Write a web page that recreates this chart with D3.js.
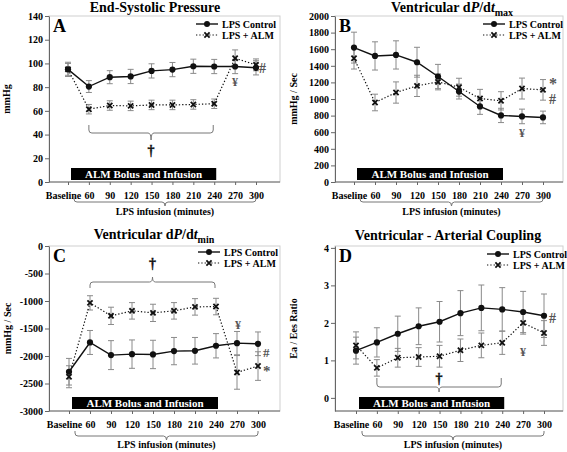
<!DOCTYPE html>
<html><head><meta charset="utf-8">
<script src="https://cdn.jsdelivr.net/npm/d3@7"></script>
<style>
body{margin:0;background:#fff}
text{font-family:"Liberation Serif","Times New Roman",serif;font-weight:bold;fill:#000}
</style>
</head><body>
<svg id="chart" width="567" height="452"></svg>
<script>
// ---------- data ----------
const categories = ["Baseline","60","90","120","150","180","210","240","270","300"];

const espTicks = [0,20,40,60,80,100,120,140];
const espControl    = [95, 80.5, 88.4, 89, 93.7, 94.8, 97.6, 97.4, 97.4, 96.3];
const espControlErr = [6, 5, 5.5, 6, 6, 6, 6, 6, 6, 6];
const espALM        = [95, 61.4, 64.5, 64.2, 65, 65, 65.4, 66, 104.4, 98.8];
const espALMErr     = [5, 4, 4, 4, 4, 4, 4, 4, 7, 5];

const maxTicks = [0,200,400,600,800,1000,1200,1400,1600,1800,2000];
const maxControl    = [1619, 1519, 1531, 1443, 1271, 1090, 910, 802, 790, 778];
const maxControlErr = [186, 170, 170, 180, 146, 90, 95, 86, 88, 76];
const maxALM        = [1491, 958, 1078, 1158, 1206, 1142, 1006, 978, 1126, 1110];
const maxALMErr     = [130, 100, 128, 128, 96, 108, 110, 110, 126, 124];

const minTicks = [0,-500,-1000,-1500,-2000,-2500,-3000];
const minControl    = [-2286, -1754, -1984, -1966, -1972, -1911, -1905, -1814, -1766, -1778];
const minControlErr = [242, 218, 263, 258, 258, 248, 242, 221, 212, 215];
const minALM        = [-2377, -1034, -1270, -1179, -1216, -1179, -1107, -1101, -2298, -2183];
const minALMErr     = [200, 130, 157, 150, 157, 150, 150, 150, 306, 260];

const vacTicks = [0,1,2,3,4];
const vacControl    = [1.26, 1.48, 1.71, 1.91, 2.03, 2.26, 2.40, 2.36, 2.29, 2.19];
const vacControlErr = [0.36, 0.39, 0.47, 0.49, 0.54, 0.60, 0.61, 0.58, 0.55, 0.58];
const vacALM        = [1.40, 0.80, 1.07, 1.09, 1.11, 1.27, 1.40, 1.47, 2.00, 1.73];
const vacALMErr     = [0.36, 0.22, 0.25, 0.25, 0.29, 0.30, 0.33, 0.31, 0.30, 0.33];

const seriesNames = ["LPS Control", "LPS + ALM"];
const barLabel = "ALM Bolus and Infusion";
const xTitle = "LPS infusion (minutes)";

// ---------- layout ----------
const panels = [
  {letter:"A", title:[["End-Systolic Pressure"]], tx:155, ty:12,
   l:49, r:280, t:16, b:182, xr:[68,256], dom:[0,140], ticks:espTicks,
   ctrl:espControl, ctrlErr:espControlErr, alm:espALM, almErr:espALMErr,
   ylab:"mmHg", ylx:6, legX:196, legY:24, xtY:215, braceY:[196,202,206],
   inner:{from:"60", to:"240", yEnd:125, yMid:133, yTip:140, dy:155},
   notes:[["¥",235,86,"m",12],["#",259,73,"s",14]]},
  {letter:"B", title:[["Ventricular d"],["P","i"],["/d"],["t","i"],["max","sub"]], tx:452, ty:12,
   l:335, r:563, t:16, b:182, xr:[354,543], dom:[0,2000], ticks:maxTicks,
   ctrl:maxControl, ctrlErr:maxControlErr, alm:maxALM, almErr:maxALMErr,
   ylab:"mmHg / Sec", ylx:293, legX:483, legY:24, xtY:215, braceY:[196,202,206],
   inner:null,
   notes:[["¥",522,137,"m",12],["*",549,89,"s",16],["#",549,104,"s",14]]},
  {letter:"C", title:[["Ventricular d"],["P","i"],["/d"],["t","i"],["min","sub"]], tx:154, ty:239,
   l:49, r:280, t:246, b:411, xr:[69,258], dom:[-3000,0], ticks:minTicks,
   ctrl:minControl, ctrlErr:minControlErr, alm:minALM, almErr:minALMErr,
   ylab:"mmHg / Sec", ylx:7, legX:198, legY:252, xtY:448, braceY:[431,436,440],
   inner:{from:"60", to:"240", yEnd:288, yMid:282, yTip:277, dy:268},
   notes:[["¥",238,329,"m",12],["#",263,357,"s",13],["*",263,376,"s",15]]},
  {letter:"D", title:[["Ventricular - Arterial Coupling"]], tx:448, ty:240,
   l:335, r:563, t:246, b:411, xr:[356,544], dom:[-0.35,4.05], ticks:vacTicks,
   ctrl:vacControl, ctrlErr:vacControlErr, alm:vacALM, almErr:vacALMErr,
   ylab:"Ea / Ees Ratio", ylx:293, legX:487, legY:254, xtY:448, braceY:[431,436,440],
   inner:{from:"60", to:"240", yEnd:378, yMid:387, yTip:392, dy:383},
   notes:[["¥",523,356,"m",12],["#",549,323,"s",14]]}
];

const svg = d3.select("#chart");
const errColor = "#8a8a8a";

function bracePath(x1, x2, xc, yEnd, yMid, yTip) {
  const r = 3, d = Math.sign(yMid - yEnd);
  const p = d3.path();
  p.moveTo(x1, yEnd);
  p.lineTo(x1, yMid - d*r);
  p.quadraticCurveTo(x1, yMid, x1 + r, yMid);
  p.lineTo(xc - r, yMid);
  p.quadraticCurveTo(xc, yMid, xc, yTip);
  p.quadraticCurveTo(xc, yMid, xc + r, yMid);
  p.lineTo(x2 - r, yMid);
  p.quadraticCurveTo(x2, yMid, x2, yMid - d*r);
  p.lineTo(x2, yEnd);
  return p.toString();
}

function xMarker(g, x, y, s) {
  g.append("path")
    .attr("d", `M${x-s},${y-s}L${x+s},${y+s}M${x-s},${y+s}L${x+s},${y-s}`)
    .attr("stroke", "#111").attr("stroke-width", 1.8).attr("fill", "none");
}

const fmt = d => String(d);

panels.forEach(P => {
  const g = svg.append("g");
  const x = d3.scalePoint().domain(categories).range(P.xr);
  const y = d3.scaleLinear().domain(P.dom).range([P.b, P.t]);

  // frame
  g.append("rect").attr("x", P.l).attr("y", P.t).attr("width", P.r - P.l).attr("height", P.b - P.t)
    .attr("fill", "none").attr("stroke", "#cfcfcf").attr("stroke-width", 1);

  // y axis
  const ya = g.append("g").attr("transform", `translate(${P.l},0)`)
    .call(d3.axisLeft(y).tickValues(P.ticks).tickFormat(fmt).tickSize(4).tickPadding(2).tickSizeOuter(0));
  ya.select(".domain").attr("stroke", "#666");
  ya.selectAll(".tick line").attr("stroke", "#666");
  ya.selectAll("text").attr("font-size", 10).attr("font-family", null).style("font-family", "'Liberation Serif',serif").attr("fill", "#000");

  // x axis
  const xa = g.append("g").attr("transform", `translate(0,${P.b})`)
    .call(d3.axisBottom(x).tickSize(3).tickPadding(6.5).tickSizeOuter(0));
  xa.select(".domain").attr("d", `M${P.l},0H${P.r}`).attr("stroke", "#666");
  xa.selectAll(".tick line").attr("stroke", "#666");
  xa.selectAll("text").attr("font-size", 10).attr("font-family", null).style("font-family", "'Liberation Serif',serif").attr("fill", "#000")
    .attr("dx", d => d === "Baseline" ? -5 : 0);

  // ALM bar
  const bx1 = x("Baseline") + 3, bx2 = x("240") + 2;
  g.append("rect").attr("x", bx1).attr("y", P.b - 14).attr("width", bx2 - bx1).attr("height", 12).attr("fill", "#000");
  g.append("text").attr("x", (bx1 + bx2) / 2).attr("y", P.b - 4.5).attr("text-anchor", "middle")
    .attr("font-size", 11).style("fill", "#fff").text(barLabel);

  // bottom brace
  const bb1 = x("Baseline") + 6, bb2 = x("300");
  g.append("path").attr("d", bracePath(bb1, bb2, (bb1 + bb2) / 2, P.braceY[0], P.braceY[1], P.braceY[2]))
    .attr("fill", "none").attr("stroke", "#777").attr("stroke-width", 1);
  g.append("text").attr("x", (bb1 + bb2) / 2).attr("y", P.xtY).attr("text-anchor", "middle").attr("font-size", 10).text(xTitle);

  // inner brace + dagger
  if (P.inner) {
    const i1 = x(P.inner.from), i2 = x(P.inner.to) - 1, ic = (i1 + i2) / 2;
    g.append("path").attr("d", bracePath(i1, i2, ic, P.inner.yEnd, P.inner.yMid, P.inner.yTip))
      .attr("fill", "none").attr("stroke", "#777").attr("stroke-width", 1);
    g.append("text").attr("x", ic).attr("y", P.inner.dy)
      .attr("text-anchor", "middle").attr("font-size", 14)
      .style("fill", "#111").style("stroke", "#111").style("stroke-width", 0.4).text("†");
  }

  // error bars
  const drawErr = (vals, errs) => {
    vals.forEach((v, i) => {
      const cx = x(categories[i]);
      const y1 = y(v + errs[i]), y2 = y(v - errs[i]);
      g.append("path").attr("d", `M${cx},${y1}V${y2}M${cx-3},${y1}H${cx+3}M${cx-3},${y2}H${cx+3}`)
        .attr("stroke", errColor).attr("stroke-width", 1).attr("fill", "none");
    });
  };
  drawErr(P.ctrl, P.ctrlErr);
  drawErr(P.alm, P.almErr);

  const line = d3.line().x((d, i) => x(categories[i])).y(d => y(d));
  g.append("path").attr("d", line(P.alm)).attr("fill", "none").attr("stroke", "#111")
    .attr("stroke-width", 1.2).attr("stroke-dasharray", "1.3,2");
  g.append("path").attr("d", line(P.ctrl)).attr("fill", "none").attr("stroke", "#111").attr("stroke-width", 1.4);
  P.ctrl.forEach((v, i) => g.append("circle").attr("cx", x(categories[i])).attr("cy", y(v)).attr("r", 3.1).attr("fill", "#111"));
  P.alm.forEach((v, i) => xMarker(g, x(categories[i]), y(v), 2.6));

  // panel letter
  g.append("text").attr("x", P.l + 4).attr("y", P.t + 16).attr("font-size", 18).text(P.letter);

  // legend
  g.append("line").attr("x1", P.legX).attr("x2", P.legX + 22).attr("y1", P.legY).attr("y2", P.legY).attr("stroke", "#111").attr("stroke-width", 1.4);
  g.append("circle").attr("cx", P.legX + 11).attr("cy", P.legY).attr("r", 3).attr("fill", "#111");
  g.append("line").attr("x1", P.legX).attr("x2", P.legX + 22).attr("y1", P.legY + 11).attr("y2", P.legY + 11).attr("stroke", "#111").attr("stroke-width", 1.2).attr("stroke-dasharray", "1.3,2");
  xMarker(g, P.legX + 11, P.legY + 11, 2.6);
  g.append("text").attr("x", P.legX + 26).attr("y", P.legY + 3.5).attr("font-size", 10).text(seriesNames[0]);
  g.append("text").attr("x", P.legX + 26).attr("y", P.legY + 14.5).attr("font-size", 10).text(seriesNames[1]);

  // y label
  g.append("text").attr("transform", `translate(${P.ylx},${(P.t + P.b) / 2}) rotate(-90)`)
    .attr("text-anchor", "middle").attr("dy", "0.35em").attr("font-size", 10).text(P.ylab);

  // title
  const tt = g.append("text").attr("x", P.tx).attr("y", P.ty).attr("text-anchor", "middle").attr("font-size", 14);
  P.title.forEach(([s, k]) => {
    const ts = tt.append("tspan").text(s);
    if (k === "i") ts.attr("font-style", "italic");
    if (k === "sub") ts.attr("font-size", 10).attr("dy", 4);
  });

  // annotations
  P.notes.forEach(([s, nx, ny, kind, fs]) => {
    const t = g.append("text").attr("x", nx).attr("y", ny).attr("font-size", fs).style("fill", "#555");
    if (kind === "m") t.attr("text-anchor", "middle");
    if (kind === "s") t.attr("font-weight", "normal");
    t.text(s);
  });
});
</script>
</body></html>
